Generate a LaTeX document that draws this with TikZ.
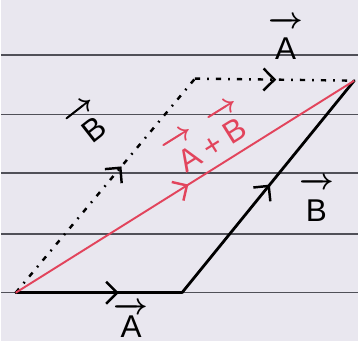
\documentclass[tikz,border=0pt]{standalone}
\usepackage{fontspec}
\setmainfont{Liberation Sans}
\usetikzlibrary{arrows.meta,decorations.markings}
\definecolor{paper}{RGB}{233,231,239}
\definecolor{rulegray}{RGB}{80,80,88}
\definecolor{sumred}{RGB}{226,68,92}
\newcommand{\vlab}[2][0.95em]{\mbox{\boldmath$\overrightarrow{\mbox{#2}\rule{0pt}{#1}}$}}

\begin{document}
\begin{tikzpicture}[
x=0.2mm, y=-0.2mm,
ruleline/.style={rulegray, line width=0.9pt},
vec/.style={line width=1.6pt, line cap=round},
sumvec/.style={sumred, line width=1.1pt},
ghost/.style={line width=1.4pt, dash pattern=on 3pt off 4pt on 1pt off 4pt},
midtip/.style={postaction={decorate},
  decoration={markings, mark=at position #1 with
  {\arrow{Straight Barb[length=2.2mm,width=4.4mm,line width=1.4pt]}}}},
lab/.style={font=\fontsize{18}{20}\selectfont, inner sep=0pt}
]

% paper
\fill[paper] (0,0) rectangle (359,343);
\foreach \y in {55,115,174,235,294}
  \draw[ruleline] (0,\y) -- (359,\y);

% corners
\coordinate (O) at (15,294);
\coordinate (P) at (182,294);
\coordinate (Q) at (355,81);
\coordinate (R) at (195,79);

% vectors
\draw[ghost, midtip=0.59] (O) -- (R);
\draw[ghost, midtip=0.51] (R) -- (Q);
\draw[vec, midtip=0.62] (O) -- (P);
\draw[vec, midtip=0.51] (P) -- (Q);
\draw[sumvec, midtip=0.51] (O) -- (Q);

% labels
\node[lab, anchor=base] (topA) at (286,60) {\vlab[1.05em]{A}};
\node[lab, rotate=38] (leftB) at (88,123) {\vlab{B}};
\node[lab, anchor=base, rotate=32, text=sumred] (sumAB) at (218,155)
  {\vlab{A}+\vlab{B}};
\node[lab, anchor=base, xshift=1mm] (rightB) at (312,222) {\vlab[1.05em]{B}};
\node[lab, anchor=base] (botA) at (131,339) {\vlab[0.8em]{A}};

\end{tikzpicture}
\end{document}
